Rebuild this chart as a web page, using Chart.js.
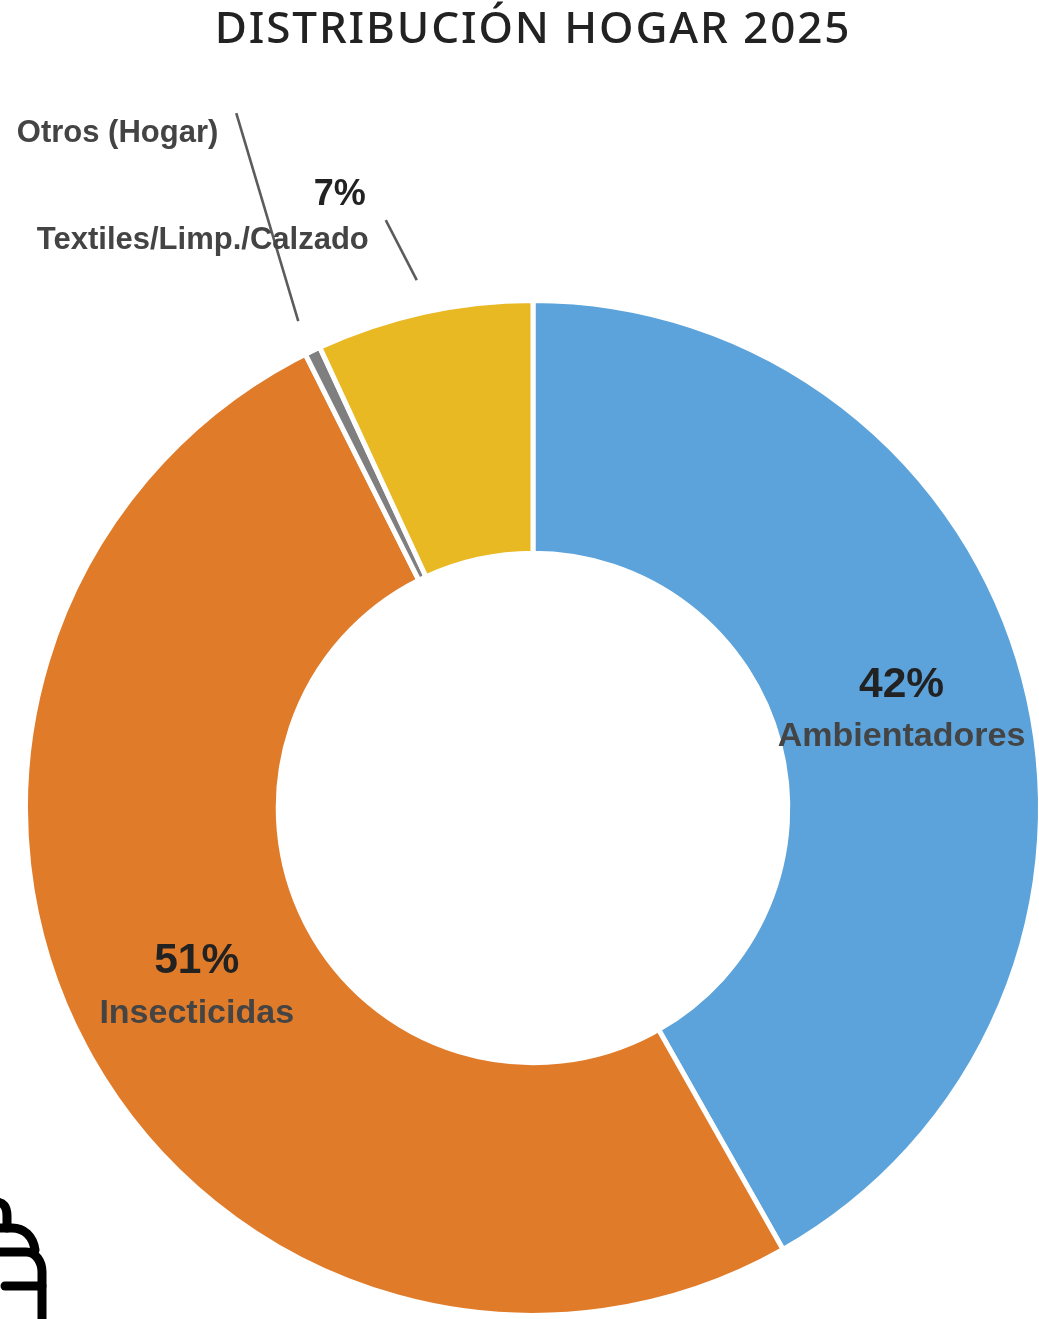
<!DOCTYPE html>
<html lang="es">
<head>
<meta charset="utf-8">
<title>Distribución Hogar 2025</title>
<script src="https://cdn.jsdelivr.net/npm/chart.js@4/dist/chart.umd.min.js"></script>
<style>
  html, body { margin: 0; padding: 0; background: #fff; }
  #wrap { position: relative; width: 1039px; height: 1319px; overflow: hidden; }
  #hogarChart { display: block; }
  #icon { position: absolute; left: 0; top: 1180px; }
</style>
</head>
<body>
<div id="wrap">
  <!-- wider than the window: the ring runs right up to the right edge -->
  <canvas id="hogarChart" width="1066" height="1319"></canvas>
  <svg id="icon" width="60" height="139" viewBox="0 0 60 139" fill="none" stroke="#000" stroke-width="9" stroke-linecap="round">
    <path d="M-4 22 Q7 22 7 36 V48"/>
    <path d="M-4 48 H12 C24 48 33 56 35 70"/>
    <path d="M-4 72 H26 C36 72 42 82 42 92 V145"/>
    <path d="M5 106 H42"/>
  </svg>
</div>
<script>
  const TITLE = 'DISTRIBUCIÓN HOGAR 2025';
  const categories = ['Ambientadores', 'Insecticidas', 'Otros (Hogar)', 'Textiles/Limp./Calzado'];
  const values = [41.8, 50.8, 0.5, 6.9];
  const colors = ['#5BA3DA', '#E07B2A', '#7F7F7F', '#E8B923'];

  /* ── Labels inside the ring and leader lines outside ─────── */
  const sliceLabels = {
    id: 'sliceLabels',
    afterDatasetsDraw(chart) {
      const ctx = chart.ctx;
      const arcs = chart.getDatasetMeta(0).data;
      const total = values.reduce((a, b) => a + b, 0);
      const pct = i => Math.round(values[i] / total * 100) + '%';
      const family = '"Liberation Sans", Arial, sans-serif';

      function text(str, x, y, size, color, align) {
        ctx.font = 'bold ' + size + 'px ' + family;
        ctx.fillStyle = color;
        ctx.textAlign = align;
        ctx.textBaseline = 'middle';
        ctx.fillText(str, x, y);
      }

      // from the slice's outer edge, out along its mid angle
      function leader(i, gap, dx, dy) {
        const a = arcs[i];
        const mid = (a.startAngle + a.endAngle) / 2;
        const r = a.outerRadius + gap;
        const x = a.x + Math.cos(mid) * r;
        const y = a.y + Math.sin(mid) * r;
        ctx.strokeStyle = '#5c5c5c';
        ctx.lineWidth = 2.6;
        ctx.beginPath();
        ctx.moveTo(x, y);
        ctx.lineTo(x + dx, y + dy);
        ctx.stroke();
        return { x: x + dx, y: y + dy };
      }

      ctx.save();
      [0, 1].forEach(i => {
        const c = arcs[i].getCenterPoint();
        text(pct(i), c.x, c.y - 26, 42.5, '#222', 'center');
        text(categories[i], c.x, c.y + 26, 34, '#444', 'center');
      });

      const otros = leader(2, 33, -62, -208);
      text(categories[2], otros.x - 18, otros.y + 20, 31, '#444', 'right');

      const textil = leader(3, 33, -31, -60);
      text(pct(3), textil.x - 20, textil.y - 25, 36, '#222', 'right');
      text(categories[3], textil.x - 17, textil.y + 20, 31, '#444', 'right');
      ctx.restore();
    }
  };

  const titleSpacing = {
    id: 'titleSpacing',
    beforeDraw(chart) { chart.ctx.letterSpacing = '1.9px'; },
    beforeDatasetsDraw(chart) { chart.ctx.letterSpacing = '0px'; }
  };

  new Chart(document.getElementById('hogarChart'), {
    type: 'doughnut',
    data: {
      labels: categories,
      datasets: [{
        data: values,
        backgroundColor: colors,
        borderColor: '#fff',
        borderWidth: 5
      }]
    },
    options: {
      responsive: false,
      animation: false,
      cutout: '50.2%',
      layout: { padding: { left: 23, right: 23, top: 0, bottom: 1 } },
      plugins: {
        legend: { display: false },
        tooltip: { enabled: false },
        title: {
          display: true,
          text: TITLE,
          color: '#222',
          font: { family: "'Noto Sans', sans-serif", size: 44, weight: '500', lineHeight: 1.2 },
          padding: { top: 4, bottom: 241 }
        }
      }
    },
    plugins: [titleSpacing, sliceLabels]
  });
</script>
</body>
</html>
